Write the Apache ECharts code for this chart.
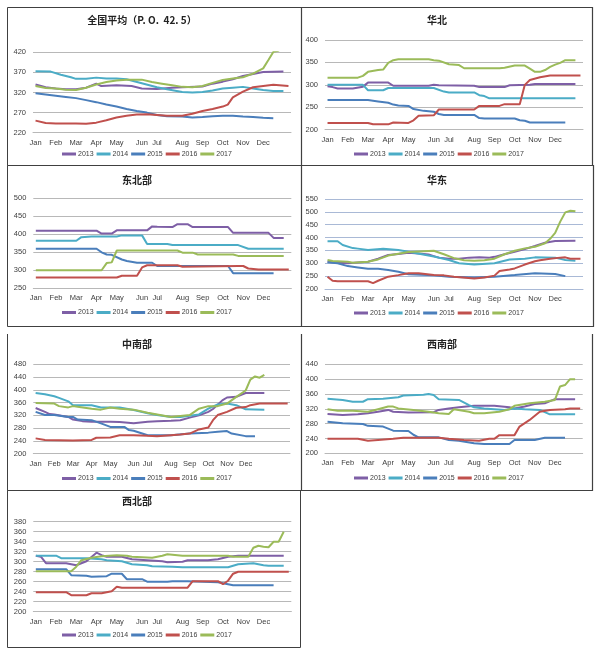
<!DOCTYPE html>
<html><head><meta charset="utf-8">
<script src="https://cdn.jsdelivr.net/npm/echarts@6/dist/echarts.min.js"></script>
<style>html,body{margin:0;padding:0;background:#fff}#c{width:600px;height:657px}</style>
</head><body><div id="c"></div>
<script>
// ---- axis labels ----
const monthLabels = ['Jan','Feb','Mar','Apr','May','Jun','Jul','Aug','Sep','Oct','Nov','Dec'];
const monthWeeks = [0,4,8,12,16,21,24,29,33,37,41,45];
const years = ['2013','2014','2015','2016','2017'];
const yearColors = ['#7E5FA6','#4BACC6','#4A7EBB','#C0504D','#9BBB59'];

// ---- 全国平均 ----
const nat13 = [[0,340],[2,333],[4,330],[6,328],[8,328],[10,332],[12,342],[13,336],[16,338],[19,336],[21,330],[24,329],[27,332],[29,333],[33,335],[35,342],[37,347],[39,353],[41,361],[43,366],[45,371],[49,372]];
const nat14 = [[0,373],[3,372],[5,364],[7,358],[8,354],[10,354],[12,357],[14,355],[16,355],[18,353],[21,343],[24,333],[26,328],[29,321],[31,320],[33,321],[35,325],[37,330],[39,332],[41,334],[43,330],[45,326],[47,324],[49,324]];
const nat15 = [[0,318],[2,315],[4,312],[6,309],[8,306],[10,301],[12,296],[14,290],[16,285],[18,279],[20,274],[22,270],[24,264],[26,261],[29,260],[31,258],[33,259],[35,261],[37,262],[39,262],[41,260],[43,259],[45,257],[47,256]];
const nat16 = [[0,250],[2,244],[4,243],[8,243],[10,242],[12,245],[14,251],[16,258],[18,262],[20,265],[22,266],[24,264],[26,262],[29,262],[31,267],[33,274],[35,279],[37,285],[38,290],[39,308],[41,322],[43,333],[45,336],[47,339],[50,336]];
const nat17 = [[0,336],[2,331],[4,330],[6,327],[8,326],[10,332],[12,340],[14,346],[16,350],[18,352],[21,352],[23,346],[25,342],[27,338],[29,334],[31,333],[33,336],[35,344],[37,351],[39,355],[41,358],[43,367],[45,380],[46,400],[47,421],[48,424],[49,432]];

// ---- 华北 ----
const hb13 = [[0,297],[1,295],[2,292],[5,292],[7,296],[8,305],[12,305],[13,298],[20,298],[21,300],[22,299],[29,298],[30,295],[35,295],[36,299],[40,300],[41,302],[49,302]];
const hb14 = [[0,300],[7,300],[8,288],[11,288],[12,293],[21,293],[23,285],[24,283],[29,283],[30,277],[31,275],[32,270],[49,270]];
const hb15 = [[0,266],[8,266],[10,263],[12,260],[13,256],[14,254],[16,253],[17,246],[19,242],[21,240],[22,235],[23,233],[29,233],[30,226],[31,225],[37,225],[38,221],[39,220],[40,216],[47,216]];
const hb16 = [[0,215],[8,215],[9,212],[12,212],[13,216],[16,215],[17,221],[18,231],[21,232],[22,245],[29,245],[30,253],[34,253],[35,257],[38,257],[39,300],[40,311],[42,317],[44,321],[50,321]];
const hb17 = [[0,316],[6,316],[7,320],[8,329],[10,333],[11,334],[12,349],[13,355],[14,357],[20,357],[21,355],[22,354],[24,346],[26,344],[27,337],[34,337],[35,338],[37,343],[39,343],[40,336],[41,329],[42,329],[43,333],[44,340],[45,345],[46,349],[47,355],[49,355]];

// ---- 东北部 ----
const db13 = [[0,410],[12,410],[13,402],[15,402],[16,411],[22,411],[23,422],[24,421],[27,420],[28,428],[30,428],[31,420],[38,420],[39,404],[46,404],[47,390],[49,390]];
const db14 = [[0,382],[8,382],[9,392],[11,394],[16,394],[17,397],[21,397],[22,373],[26,373],[27,370],[40,370],[42,360],[49,360]];
const db15 = [[0,360],[12,360],[13,350],[14,344],[15,343],[17,330],[18,326],[20,321],[23,321],[24,312],[38,312],[39,292],[47,292]];
const db16 = [[0,280],[16,280],[17,285],[20,285],[21,308],[22,314],[28,314],[29,310],[40,312],[41,312],[42,305],[44,302],[50,302]];
const db17 = [[0,300],[13,300],[14,320],[15,322],[16,355],[28,355],[29,349],[31,349],[32,344],[39,344],[40,340],[49,340]];

// ---- 华东 ----
const hd13 = [[0,306],[2,302],[4,300],[6,303],[8,306],[10,318],[12,332],[14,336],[16,341],[18,338],[20,334],[21,328],[22,322],[24,318],[26,318],[28,322],[30,323],[32,322],[33,325],[35,335],[37,345],[39,355],[41,367],[43,380],[45,387],[49,388]];
const hd14 = [[0,386],[2,386],[3,371],[5,359],[6,357],[8,352],[11,357],[14,352],[16,345],[21,326],[24,313],[26,300],[29,295],[33,300],[36,315],[39,318],[41,323],[45,322],[47,313],[49,310]];
const hd15 = [[0,304],[2,300],[4,289],[6,284],[8,279],[10,279],[12,274],[14,267],[16,257],[21,253],[24,248],[29,245],[33,248],[37,254],[41,261],[45,258],[47,250]];
const hd16 = [[0,248],[1,232],[2,230],[8,230],[9,223],[10,232],[12,248],[14,254],[16,261],[18,261],[21,254],[23,253],[25,248],[29,241],[31,245],[33,252],[34,270],[36,276],[37,280],[39,295],[41,308],[42,312],[44,318],[46,322],[47,323],[48,318],[50,318]];
const hd17 = [[0,313],[1,309],[4,306],[5,302],[8,306],[10,315],[12,330],[14,337],[16,344],[18,346],[21,349],[23,335],[25,320],[27,312],[29,310],[31,312],[33,318],[35,335],[37,349],[39,358],[41,364],[43,378],[44,395],[45,418],[46,462],[47,498],[48,504],[49,502]];

// ---- 中南部 ----
const zn13 = [[0,343],[2,331],[3,324],[4,323],[7,315],[8,307],[10,302],[12,300],[16,300],[18,299],[21,295],[24,300],[26,302],[29,303],[31,305],[33,313],[35,320],[37,331],[38,340],[40,367],[41,376],[43,378],[45,390],[49,390]];
const zn14 = [[0,390],[2,386],[4,380],[5,375],[7,364],[8,352],[12,352],[14,345],[18,345],[21,337],[24,327],[26,321],[29,315],[31,315],[33,319],[35,323],[37,341],[39,354],[41,357],[43,352],[45,339],[49,338]];
const zn15 = [[0,331],[2,321],[4,321],[7,315],[8,315],[9,307],[12,305],[14,295],[16,284],[19,284],[20,274],[21,272],[24,258],[29,258],[33,263],[37,266],[39,269],[41,271],[42,263],[45,255],[47,255]];
const zn16 = [[0,248],[2,243],[8,241],[12,243],[13,250],[16,251],[18,258],[21,258],[24,256],[26,255],[29,258],[31,260],[33,263],[35,276],[37,282],[38,305],[39,321],[41,331],[43,344],[45,346],[46,352],[48,357],[54,357]];
const zn17 = [[0,359],[4,357],[5,349],[7,345],[8,349],[9,347],[12,341],[14,338],[16,345],[18,341],[21,338],[24,328],[29,315],[33,321],[35,341],[37,349],[39,349],[41,357],[43,378],[45,398],[46,432],[47,442],[48,438],[49,447]];

// ---- 西南部 ----
const xn13 = [[0,306],[3,303],[6,305],[8,308],[10,312],[12,317],[13,312],[16,310],[21,311],[22,317],[24,321],[26,324],[29,328],[33,328],[36,324],[37,321],[39,326],[41,333],[43,335],[45,346],[49,346]];
const xn14 = [[0,347],[3,344],[5,339],[7,339],[8,346],[11,347],[14,351],[15,356],[19,358],[20,360],[21,357],[22,346],[26,344],[28,330],[29,324],[31,321],[33,319],[35,317],[37,321],[39,319],[42,317],[44,305],[49,305]];
const xn15 = [[0,285],[1,284],[3,281],[7,279],[8,274],[11,272],[13,261],[16,260],[17,250],[18,243],[22,243],[24,236],[26,234],[29,227],[31,225],[36,225],[37,236],[41,236],[43,242],[47,242]];
const xn16 = [[0,239],[6,239],[8,234],[10,236],[13,239],[15,242],[22,242],[24,239],[27,236],[30,234],[32,239],[33,239],[34,249],[37,249],[38,272],[40,290],[42,312],[44,317],[47,319],[48,321],[50,321]];
const xn17 = [[0,319],[2,315],[5,315],[8,312],[10,319],[12,326],[13,326],[14,321],[17,317],[20,312],[22,308],[24,306],[25,319],[28,312],[29,308],[31,308],[34,312],[36,319],[37,328],[40,335],[43,339],[45,344],[46,380],[47,384],[48,400],[49,400]];

// ---- 西北部 ----
const xb13 = [[0,312],[1,310],[2,297],[6,297],[8,293],[10,301],[12,318],[13,313],[14,310],[17,310],[19,305],[22,303],[25,301],[26,299],[29,300],[30,303],[34,303],[36,305],[38,310],[40,312],[49,312]];
const xb14 = [[0,312],[4,312],[5,307],[10,307],[13,305],[14,303],[17,301],[18,298],[19,295],[22,293],[23,291],[27,290],[29,289],[38,289],[39,292],[40,295],[43,297],[45,293],[46,292],[49,292]];
const xb15 = [[0,285],[6,285],[7,273],[10,272],[11,270],[14,271],[15,276],[17,276],[18,265],[21,265],[22,260],[26,260],[27,261],[30,261],[33,260],[36,259],[38,255],[39,253],[47,253]];
const xb16 = [[0,239],[6,239],[7,233],[10,233],[11,237],[13,237],[15,241],[16,250],[17,248],[30,248],[31,261],[36,261],[37,255],[38,262],[39,276],[40,280],[50,280]];
const xb17 = [[0,281],[7,281],[8,290],[9,303],[11,308],[13,311],[16,313],[18,312],[19,310],[21,309],[23,308],[25,312],[26,315],[29,312],[38,312],[39,310],[42,310],[43,328],[44,332],[45,330],[46,329],[47,340],[48,340],[49,360]];

const panels = [
  {title:'全国平均（P. O.  42. 5）', tx:142, ty:22, grid:{left:33,top:52.3,width:258,height:80.4}, n:51, min:220, max:420, step:50, lx:62, ly:155, data:[nat13,nat14,nat15,nat16,nat17], gc:'#b8b8b8'},
  {title:'华北', tx:437, ty:22, grid:{left:325,top:40,width:258,height:89.7}, n:51, min:200, max:400, step:50, lx:354, ly:155, data:[hb13,hb14,hb15,hb16,hb17], gc:'#b8b8b8'},
  {title:'东北部', tx:137, ty:182, grid:{left:33.3,top:198.3,width:258,height:90}, n:51, min:250, max:500, step:50, lx:62, ly:313.5, data:[db13,db14,db15,db16,db17], gc:'#b8b8b8'},
  {title:'华东', tx:437, ty:182, grid:{left:325,top:199,width:258,height:90}, n:51, min:200, max:550, step:50, lx:354, ly:314, data:[hd13,hd14,hd15,hd16,hd17], gc:'#a9b9d6'},
  {title:'中南部', tx:137, ty:346, grid:{left:33.3,top:364.3,width:256.7,height:89.4}, n:55, min:200, max:480, step:40, lx:62, ly:479.5, data:[zn13,zn14,zn15,zn16,zn17], gc:'#b8b8b8'},
  {title:'西南部', tx:442, ty:346, grid:{left:325,top:364.3,width:257.7,height:89}, n:51, min:200, max:440, step:40, lx:354, ly:479, data:[xn13,xn14,xn15,xn16,xn17], gc:'#b8b8b8'},
  {title:'西北部', tx:137, ty:503.5, grid:{left:33.3,top:521.7,width:258,height:90}, n:51, min:200, max:380, step:20, lx:62, ly:636, data:[xb13,xb14,xb15,xb16,xb17], gc:'#b8b8b8'}
];

const latin = "'Liberation Sans', Arial, sans-serif";
const cjk = "'Noto Sans CJK SC', sans-serif";
const labelMap = {};
monthWeeks.forEach((w, i) => { labelMap[w] = monthLabels[i]; });

const option = {
  backgroundColor: '#fff',
  animation: false,
  title: [], legend: [], grid: [], xAxis: [], yAxis: [], series: [],
  graphic: [
    {type:'rect', silent:true, shape:{x:7.5,y:7.5,width:294,height:158}, style:{fill:'none',stroke:'#404040',lineWidth:1}},
    {type:'rect', silent:true, shape:{x:301.5,y:7.5,width:291,height:158}, style:{fill:'none',stroke:'#404040',lineWidth:1.2}},
    {type:'rect', silent:true, shape:{x:7.5,y:165.5,width:294,height:161}, style:{fill:'none',stroke:'#404040',lineWidth:1}},
    {type:'rect', silent:true, shape:{x:301.5,y:165.5,width:292,height:161}, style:{fill:'none',stroke:'#404040',lineWidth:1.2}},
    {type:'polyline', silent:true, shape:{points:[[7.5,334],[7.5,490.5],[301.5,490.5],[301.5,334]]}, style:{fill:'none',stroke:'#404040',lineWidth:1}},
    {type:'polyline', silent:true, shape:{points:[[301.5,334],[301.5,490.5],[592.5,490.5],[592.5,334]]}, style:{fill:'none',stroke:'#404040',lineWidth:1.2}},
    {type:'rect', silent:true, shape:{x:7.5,y:490.5,width:293,height:157}, style:{fill:'none',stroke:'#404040',lineWidth:1}}
  ]
};

panels.forEach((p, i) => {
  option.title.push({
    text: p.title, left: p.tx, top: p.ty - 7, textAlign: 'center', padding: 0,
    textStyle: {fontSize: 10, fontWeight: 'bold', color: '#222', fontFamily: cjk}
  });
  option.legend.push({
    data: years, left: p.lx, top: p.ly - 4.5, padding: 0, icon: 'rect',
    itemWidth: 14, itemHeight: 3, itemGap: 3, selectedMode: false,
    textStyle: {fontSize: 7, color: '#404040', fontFamily: latin, padding: [0,0,0,-3]}
  });
  option.grid.push(Object.assign({containLabel: false}, p.grid));
  const cats = [];
  for (let k = 0; k < p.n; k++) cats.push('W' + k);
  option.xAxis.push({
    type: 'category', gridIndex: i, data: cats, boundaryGap: true,
    axisTick: {show: false},
    axisLine: {show: true, lineStyle: {color: p.gc, width: 1}},
    axisLabel: {interval: 0, margin: 6, fontSize: 7.5, color: '#404040', fontFamily: latin,
      formatter: (v, idx) => labelMap[idx] || ''},
    splitLine: {show: false}
  });
  option.yAxis.push({
    type: 'value', gridIndex: i, min: p.min, max: p.max, interval: p.step,
    axisLine: {show: false}, axisTick: {show: false},
    axisLabel: {margin: 7, fontSize: 7.5, color: '#404040', fontFamily: latin},
    splitLine: {show: true, lineStyle: {color: p.gc, width: 1}}
  });
  p.data.forEach((d, k) => {
    option.series.push({
      type: 'line', name: years[k], xAxisIndex: i, yAxisIndex: i, data: d,
      symbol: 'none', silent: true, color: yearColors[k],
      lineStyle: {width: 2, color: yearColors[k]}, emphasis: {disabled: true}
    });
  });
});

const chart = echarts.init(document.getElementById('c'));
chart.setOption(option);
</script>
</body></html>
